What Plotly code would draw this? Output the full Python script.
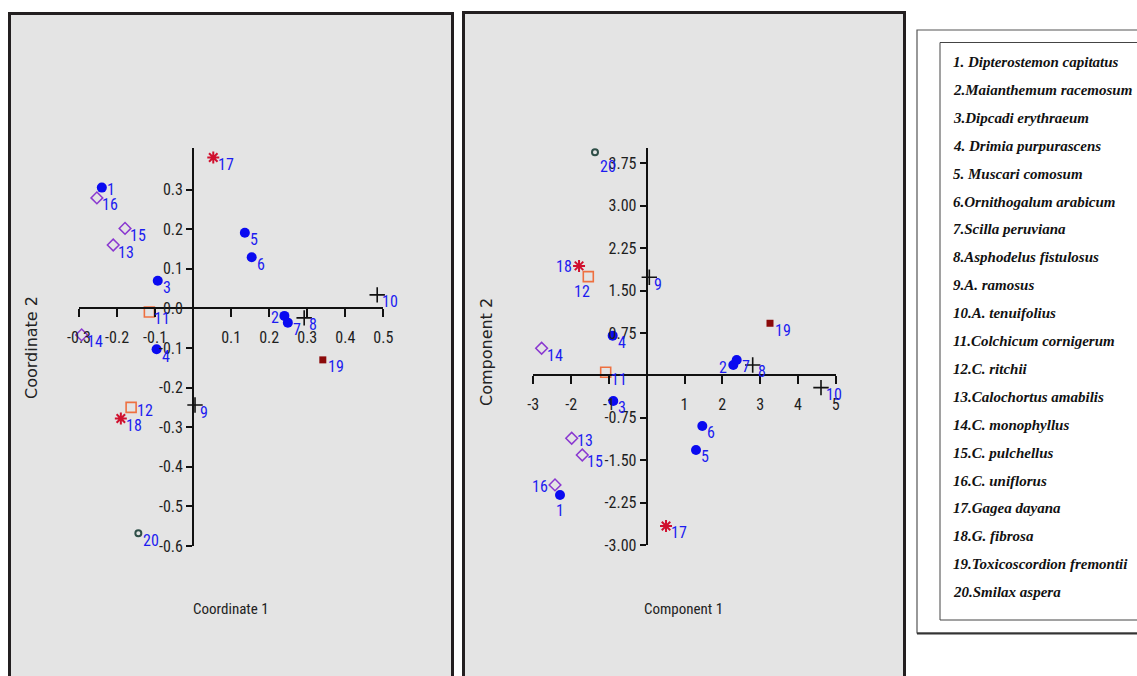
import plotly.graph_objects as go

W, H = 1137, 676

# ---------------- data ----------------
species = list(range(1, 21))
names = ["1. Dipterostemon capitatus", "2.Maianthemum racemosum", "3.Dipcadi erythraeum",
         "4. Drimia purpurascens", "5. Muscari comosum", "6.Ornithogalum arabicum",
         "7.Scilla peruviana", "8.Asphodelus fistulosus", "9.A. ramosus", "10.A. tenuifolius",
         "11.Colchicum cornigerum", "12.C. ritchii", "13.Calochortus amabilis",
         "14.C. monophyllus", "15.C. pulchellus", "16.C. uniflorus", "17.Gagea dayana",
         "18.G. fibrosa", "19.Toxicoscordion fremontii", "20.Smilax aspera"]
groups = (["Asparagaceae"] * 7 + ["Asphodelus"] * 3 + ["Colchicum"] * 2 +
          ["Calochortus"] * 4 + ["Gagea"] * 2 + ["Toxicoscordion"] + ["Smilax"])

coord1 = [-0.240, 0.240, -0.093, -0.096, 0.136, 0.154, 0.249, 0.292, 0.005, 0.484,
          -0.115, -0.163, -0.210, -0.293, -0.179, -0.253, 0.053, -0.190, 0.341, -0.144]
coord2 = [0.305, -0.019, 0.070, -0.103, 0.191, 0.129, -0.036, -0.024, -0.244, 0.034,
          -0.009, -0.250, 0.160, -0.067, 0.202, 0.279, 0.381, -0.278, -0.130, -0.568]

comp1 = [-2.294, 2.291, -0.884, -0.900, 1.304, 1.471, 2.381, 2.804, 0.069, 4.611,
         -1.085, -1.545, -1.984, -2.780, -1.704, -2.426, 0.511, -1.790, 3.262, -1.368]
comp2 = [-2.115, 0.184, -0.453, 0.702, -1.319, -0.895, 0.272, 0.184, 1.735, -0.218,
         0.055, 1.745, -1.112, 0.479, -1.408, -1.938, -2.663, 1.935, 0.921, 3.945]

left_xticks = [-0.3, -0.2, -0.1, 0.1, 0.2, 0.3, 0.4, 0.5]
left_yticks = [-0.6, -0.5, -0.4, -0.3, -0.2, -0.1, 0.0, 0.1, 0.2, 0.3]
right_xticks = [-3, -2, -1, 1, 2, 3, 4, 5]
right_yticks = [-3.00, -2.25, -1.50, -0.75, 0.75, 1.50, 2.25, 3.00, 3.75]

left_xrange = [-0.3, 0.5]
left_yrange = [-0.6, 0.405]
right_xrange = [-3, 5]
right_yrange = [-3, 4.02]

# ---------------- styles ----------------
gstyle = {
    "Asparagaceae": dict(symbol="circle", color="#0a0af0", size=10, lw=0),
    "Asphodelus": dict(symbol="cross-thin-open", color="#111111", size=11, lw=1.6),
    "Colchicum": dict(symbol="square-open", color="#ee7040", size=10, lw=1.6),
    "Calochortus": dict(symbol="diamond-open", color="#8a38d0", size=9, lw=1.5),
    "Gagea": dict(symbol="asterisk-open", color="#d0102e", size=10, lw=2),
    "Toxicoscordion": dict(symbol="square", color="#8b0a0a", size=7, lw=0),
    "Smilax": dict(symbol="circle-open", color="#2f4f48", size=6, lw=2),
}

NARROW = "Liberation Sans Narrow, Arial Narrow, Roboto Condensed, Liberation Sans, sans-serif"
TICKFONT = dict(family=NARROW, size=16, color="#1e1e1e")
LABFONT = dict(family=NARROW, size=16, color="#1c1cf0")

default_off = ("left", 3, -7)
left_off = {1: ("left", 3, -2), 2: ("right", -3, -2), 12: ("left", 4, -3)}
right_off = {20: ("left", 3, -14), 18: ("right", -5, -1), 12: ("center", -6, -15),
             16: ("right", -5, -2), 1: ("center", 0, -16), 13: ("left", 3, -2),
             2: ("right", -4, -3)}


def px(x):
    return x / W


def py(y):
    return 1 - y / H


# plot-area domains (pixel extents of the axis lines)
L_dom_x = [px(79), px(383.3)]
L_dom_y = [py(546), py(148)]
R_dom_x = [px(533.3), px(835.7)]
R_dom_y = [py(545), py(148)]


def cross_pos(dom, rng):
    return dom[0] + (0 - rng[0]) / (rng[1] - rng[0]) * (dom[1] - dom[0])


fig = go.Figure()

for xs, ys, xa, ya in [(coord1, coord2, "x", "y"), (comp1, comp2, "x2", "y2")]:
    for g in gstyle:
        idx = [i for i in range(len(species)) if groups[i] == g]
        st = gstyle[g]
        fig.add_trace(go.Scatter(
            x=[xs[i] for i in idx], y=[ys[i] for i in idx],
            mode="markers", xaxis=xa, yaxis=ya, showlegend=False, cliponaxis=False,
            hoverinfo="skip",
            marker=dict(symbol=st["symbol"], color=st["color"], size=st["size"],
                        line=dict(width=st["lw"], color=st["color"])),
        ))

annotations = []
for xs, ys, xa, ya, offs in [(coord1, coord2, "x", "y", left_off),
                             (comp1, comp2, "x2", "y2", right_off)]:
    for i, s in enumerate(species):
        xan, xsh, ysh = offs.get(s, default_off)
        annotations.append(dict(x=xs[i], y=ys[i], xref=xa, yref=ya, text=str(s),
                                showarrow=False, xanchor=xan, yanchor="middle",
                                xshift=xsh, yshift=ysh, font=LABFONT))

# axis titles
TITLEX = dict(family=NARROW, size=15, color="#222222")
TITLEY = dict(family="DejaVu Sans, Verdana, sans-serif", size=16, color="#222222")
annotations += [
    dict(x=px(231), y=py(609), xref="paper", yref="paper", text="Coordinate 1",
         showarrow=False, font=TITLEX, xanchor="center", yanchor="middle"),
    dict(x=px(683), y=py(609), xref="paper", yref="paper", text="Component 1",
         showarrow=False, font=TITLEX, xanchor="center", yanchor="middle"),
    dict(x=px(31), y=py(348), xref="paper", yref="paper", text="Coordinate 2",
         showarrow=False, font=TITLEY, textangle=-90, xanchor="center", yanchor="middle"),
    dict(x=px(486), y=py(352), xref="paper", yref="paper", text="Component 2",
         showarrow=False, font=TITLEY, textangle=-90, xanchor="center", yanchor="middle"),
]

# legend list
LEGFONT = dict(family="Liberation Serif, Times New Roman, serif", size=15, color="#111111")
for k, nm in enumerate(names):
    annotations.append(dict(x=px(951), y=py(62 + k * 27.9), xref="paper", yref="paper",
                            text="<b><i>" + nm + "</i></b>", showarrow=False,
                            xanchor="left", yanchor="middle", font=LEGFONT))

shapes = [
    # left panel
    dict(type="rect", xref="paper", yref="paper", x0=px(9.5), x1=px(452.5), y0=py(690), y1=py(13.5),
         fillcolor="#e4e4e4", line=dict(color="#231f20", width=3), layer="below"),
    # right panel
    dict(type="rect", xref="paper", yref="paper", x0=px(463.5), x1=px(904.5), y0=py(690), y1=py(12.5),
         fillcolor="#e4e4e4", line=dict(color="#231f20", width=3), layer="below"),
    # legend outer box
    dict(type="rect", xref="paper", yref="paper", x0=px(917), x1=px(1150), y0=py(633), y1=py(30),
         fillcolor="white", line=dict(color="#555555", width=1.2), layer="below"),
    dict(type="line", xref="paper", yref="paper", x0=px(917), x1=px(1150), y0=py(633.5), y1=py(633.5),
         line=dict(color="#333333", width=2), layer="below"),
    # legend inner box
    dict(type="rect", xref="paper", yref="paper", x0=px(940), x1=px(1150), y0=py(620), y1=py(42.5),
         fillcolor="white", line=dict(color="#444444", width=1), layer="below"),
]


def xaxis_cfg(dom, rng, ticks, pos, fmt):
    return dict(domain=dom, range=rng, anchor="free", position=pos, showline=True,
                linecolor="#111111", linewidth=2, ticks="outside", ticklen=8, tickwidth=1.5,
                tickcolor="#111111", tickvals=ticks, ticktext=[fmt(t) for t in ticks],
                showgrid=False, zeroline=False, tickfont=TICKFONT, fixedrange=True,
                automargin=False, ticklabelstandoff=6)


def yaxis_cfg(dom, rng, ticks, pos, fmt):
    return dict(domain=dom, range=rng, anchor="free", position=pos, showline=True,
                linecolor="#111111", linewidth=2, ticks="outside", ticklen=6, tickwidth=1.5,
                tickcolor="#111111", tickvals=ticks, ticktext=[fmt(t) for t in ticks],
                showgrid=False, zeroline=False, tickfont=TICKFONT, fixedrange=True,
                automargin=False)


f1 = lambda t: "%.1f" % t
f0 = lambda t: "%d" % t
f2 = lambda t: "%.2f" % t

fig.update_layout(
    template="none",
    width=W, height=H, margin=dict(l=0, r=0, t=0, b=0, pad=0, autoexpand=False),
    paper_bgcolor="white", plot_bgcolor="rgba(0,0,0,0)", showlegend=False,
    xaxis=xaxis_cfg(L_dom_x, left_xrange, left_xticks, cross_pos(L_dom_y, left_yrange), f1),
    yaxis=yaxis_cfg(L_dom_y, left_yrange, left_yticks, cross_pos(L_dom_x, left_xrange), f1),
    xaxis2=xaxis_cfg(R_dom_x, right_xrange, right_xticks, cross_pos(R_dom_y, right_yrange), f0),
    yaxis2=yaxis_cfg(R_dom_y, right_yrange, right_yticks, cross_pos(R_dom_x, right_xrange), f2),
    annotations=annotations, shapes=shapes,
)

fig.write_html("out.html", config={"displayModeBar": False},
               post_script="document.body.style.margin='0';document.body.style.overflow='hidden';")
